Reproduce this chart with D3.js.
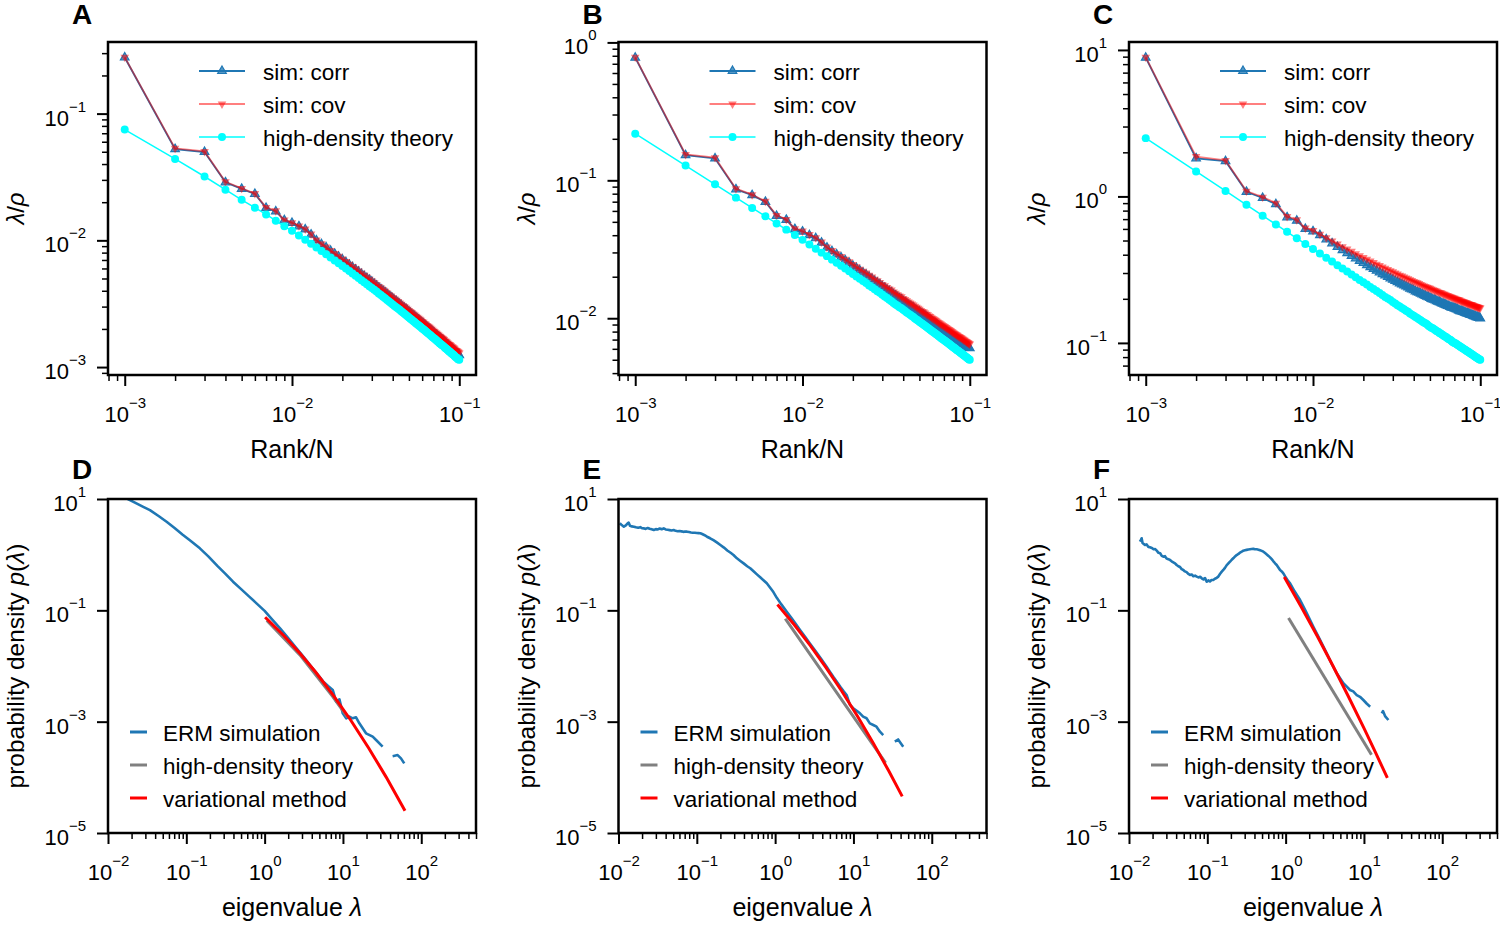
<!DOCTYPE html>
<html>
<head>
<meta charset="utf-8">
<title>ERM spectra</title>
<script src="https://cdn.jsdelivr.net/npm/d3@7/dist/d3.min.js"></script>
<style>
  body { margin: 0; background: #ffffff; }
  svg text { font-family: "Liberation Sans", Arial, Helvetica, sans-serif; }
</style>
</head>
<body>
<div id="figure"></div>
<script>
// DATA
// top row: eigenvalue / density against rank / N
const rankN = [
  0.001, 0.002, 0.003, 0.004, 0.005, 0.006, 0.007, 0.008, 0.009, 0.010,
  0.011, 0.012, 0.013, 0.014, 0.015, 0.016, 0.017, 0.018, 0.019, 0.020,
  0.021, 0.022, 0.023, 0.024, 0.025, 0.026, 0.027, 0.028, 0.029, 0.030,
  0.031, 0.032, 0.033, 0.034, 0.035, 0.036, 0.037, 0.038, 0.039, 0.040,
  0.041, 0.042, 0.043, 0.044, 0.045, 0.046, 0.047, 0.048, 0.049, 0.050,
  0.051, 0.052, 0.053, 0.054, 0.055, 0.056, 0.057, 0.058, 0.059, 0.060,
  0.061, 0.062, 0.063, 0.064, 0.065, 0.066, 0.067, 0.068, 0.069, 0.070,
  0.071, 0.072, 0.073, 0.074, 0.075, 0.076, 0.077, 0.078, 0.079, 0.080,
  0.081, 0.082, 0.083, 0.084, 0.085, 0.086, 0.087, 0.088, 0.089, 0.090,
  0.091, 0.092, 0.093, 0.094, 0.095, 0.096, 0.097, 0.098, 0.099, 0.100
];

const A_corr = [
  0.277, 0.0525, 0.0498, 0.0287, 0.0255, 0.0232, 0.018, 0.0169, 0.0144, 0.0137,
  0.0129, 0.0122, 0.0111, 0.00998, 0.00933, 0.00879, 0.00826, 0.00782, 0.00742, 0.00707,
  0.00671, 0.00641, 0.00613, 0.00588, 0.00565, 0.00543, 0.00524, 0.00504, 0.00488, 0.00471,
  0.00454, 0.00439, 0.00424, 0.00412, 0.004, 0.00389, 0.00378, 0.00366, 0.00357, 0.00348,
  0.00337, 0.0033, 0.00322, 0.00314, 0.00306, 0.00298, 0.00292, 0.00287, 0.0028, 0.00273,
  0.00267, 0.00261, 0.00255, 0.00252, 0.00246, 0.00241, 0.00237, 0.00232, 0.00228, 0.00223,
  0.0022, 0.00215, 0.00212, 0.00207, 0.00204, 0.00201, 0.00197, 0.00194, 0.00191, 0.00188,
  0.00185, 0.00181, 0.00179, 0.00176, 0.00173, 0.00171, 0.00169, 0.00166, 0.00164, 0.00162,
  0.0016, 0.00156, 0.00155, 0.00153, 0.0015, 0.00148, 0.00146, 0.00145, 0.00143, 0.0014,
  0.00139, 0.00137, 0.00136, 0.00133, 0.00131, 0.0013, 0.00129, 0.00127, 0.00126, 0.00124
];
const A_cov = [
  0.279, 0.0532, 0.0503, 0.029, 0.0257, 0.0234, 0.0182, 0.0171, 0.0145, 0.0138,
  0.013, 0.0123, 0.0112, 0.01005, 0.00939, 0.00885, 0.00832, 0.00788, 0.00748, 0.00712,
  0.0068, 0.00649, 0.00621, 0.00596, 0.00572, 0.0055, 0.00531, 0.00511, 0.00494, 0.00477,
  0.00462, 0.00447, 0.00432, 0.0042, 0.00407, 0.00396, 0.00385, 0.00373, 0.00364, 0.00354,
  0.00345, 0.00337, 0.00329, 0.00321, 0.00313, 0.00305, 0.00299, 0.00293, 0.00286, 0.00279,
  0.00274, 0.00268, 0.00262, 0.00258, 0.00252, 0.00247, 0.00243, 0.00238, 0.00234, 0.00229,
  0.00226, 0.00221, 0.00218, 0.00213, 0.0021, 0.00207, 0.00203, 0.002, 0.00196, 0.00193,
  0.00191, 0.00187, 0.00185, 0.00182, 0.00179, 0.00176, 0.00174, 0.00171, 0.00169, 0.00167,
  0.00165, 0.00161, 0.0016, 0.00158, 0.00155, 0.00153, 0.00151, 0.0015, 0.00148, 0.00145,
  0.00144, 0.00142, 0.00141, 0.00138, 0.00136, 0.00135, 0.00134, 0.00132, 0.00131, 0.00129
];
const A_theory = [
  0.0748, 0.0439, 0.0319, 0.0251, 0.0209, 0.0181, 0.016, 0.0143, 0.0129, 0.0119,
  0.0109, 0.0101, 0.00939, 0.00878, 0.00824, 0.00776, 0.00733, 0.00694, 0.00659, 0.00627,
  0.00599, 0.00572, 0.00547, 0.00525, 0.00504, 0.00485, 0.00468, 0.0045, 0.00435, 0.0042,
  0.00407, 0.00394, 0.00381, 0.0037, 0.00359, 0.00349, 0.00339, 0.00329, 0.00321, 0.00312,
  0.00304, 0.00297, 0.0029, 0.00283, 0.00276, 0.00269, 0.00263, 0.00258, 0.00252, 0.00246,
  0.00241, 0.00236, 0.00231, 0.00227, 0.00222, 0.00218, 0.00214, 0.0021, 0.00206, 0.00202,
  0.00199, 0.00195, 0.00192, 0.00188, 0.00185, 0.00182, 0.00179, 0.00176, 0.00173, 0.0017,
  0.00168, 0.00165, 0.00163, 0.0016, 0.00158, 0.00155, 0.00153, 0.00151, 0.00149, 0.00147,
  0.00145, 0.00142, 0.00141, 0.00139, 0.00137, 0.00135, 0.00133, 0.00132, 0.0013, 0.00128,
  0.00127, 0.00125, 0.00124, 0.00122, 0.0012, 0.00119, 0.00118, 0.00116, 0.00115, 0.00114
];

const B_corr = [
  0.775, 0.152, 0.144, 0.086, 0.078, 0.0698, 0.0552, 0.0517, 0.0443, 0.0425,
  0.04, 0.038, 0.0353, 0.0325, 0.0306, 0.029, 0.0276, 0.0263, 0.0252, 0.024,
  0.0231, 0.0222, 0.0214, 0.0207, 0.0199, 0.0193, 0.0186, 0.0181, 0.0176, 0.017,
  0.0166, 0.0161, 0.0157, 0.0154, 0.0149, 0.0146, 0.0142, 0.0139, 0.0137, 0.0133,
  0.0131, 0.0128, 0.0125, 0.0123, 0.0121, 0.0119, 0.0116, 0.0114, 0.0112, 0.0111,
  0.0109, 0.0107, 0.0106, 0.0104, 0.0102, 0.0101, 0.00986, 0.00971, 0.00958, 0.00943,
  0.00931, 0.00918, 0.00905, 0.00893, 0.0088, 0.00868, 0.00856, 0.00846, 0.00836, 0.00825,
  0.00815, 0.00806, 0.00795, 0.00787, 0.00777, 0.00768, 0.00761, 0.00751, 0.00742, 0.00734,
  0.00727, 0.00719, 0.00711, 0.00705, 0.00697, 0.0069, 0.00683, 0.00678, 0.00671, 0.00664,
  0.00658, 0.00649, 0.00646, 0.00639, 0.00633, 0.00628, 0.00621, 0.00618, 0.0061, 0.00606
];
const B_cov = [
  0.782, 0.154, 0.146, 0.087, 0.0787, 0.0704, 0.0557, 0.0521, 0.0446, 0.0429,
  0.0404, 0.0384, 0.0357, 0.0328, 0.031, 0.0294, 0.028, 0.0268, 0.0257, 0.0245,
  0.0236, 0.0227, 0.0219, 0.0213, 0.0205, 0.0199, 0.0192, 0.0187, 0.0182, 0.0176,
  0.0172, 0.0167, 0.0163, 0.016, 0.0155, 0.0152, 0.0148, 0.0145, 0.0143, 0.0139,
  0.0137, 0.0134, 0.0131, 0.0129, 0.0127, 0.0125, 0.0122, 0.012, 0.0118, 0.0116,
  0.0114, 0.0112, 0.0111, 0.0109, 0.0107, 0.0106, 0.0104, 0.0103, 0.0101, 0.00996,
  0.00984, 0.0097, 0.00958, 0.00945, 0.00932, 0.0092, 0.00908, 0.00897, 0.00887, 0.00876,
  0.00866, 0.00857, 0.00846, 0.00837, 0.00827, 0.00818, 0.0081, 0.00801, 0.00791, 0.00783,
  0.00776, 0.00767, 0.0076, 0.00753, 0.00745, 0.00738, 0.0073, 0.00725, 0.00718, 0.00711,
  0.00704, 0.00696, 0.00692, 0.00685, 0.00678, 0.00673, 0.00666, 0.00662, 0.00654, 0.0065
];
const B_theory = [
  0.218, 0.128, 0.0935, 0.0749, 0.0631, 0.0548, 0.0487, 0.0439, 0.0401, 0.037,
  0.0343, 0.0319, 0.0299, 0.0282, 0.0266, 0.0252, 0.024, 0.0229, 0.0219, 0.0209,
  0.0201, 0.0193, 0.0186, 0.018, 0.0173, 0.0168, 0.0162, 0.0157, 0.0153, 0.0148,
  0.0144, 0.014, 0.0136, 0.0133, 0.0129, 0.0126, 0.0123, 0.012, 0.0118, 0.0115,
  0.0113, 0.011, 0.0108, 0.0106, 0.0104, 0.0102, 0.00997, 0.00979, 0.00961, 0.00943,
  0.00926, 0.00911, 0.00896, 0.00881, 0.00866, 0.00852, 0.00838, 0.00826, 0.00812, 0.008,
  0.00789, 0.00777, 0.00766, 0.00755, 0.00744, 0.00733, 0.00723, 0.00713, 0.00704, 0.00695,
  0.00686, 0.00678, 0.00669, 0.00661, 0.00652, 0.00644, 0.00637, 0.00629, 0.00621, 0.00614,
  0.00608, 0.006, 0.00594, 0.00587, 0.00581, 0.00575, 0.00568, 0.00563, 0.00557, 0.00551,
  0.00545, 0.00539, 0.00535, 0.00529, 0.00523, 0.00519, 0.00513, 0.00509, 0.00503, 0.00499
];

const C_corr = [
  8.85, 1.82, 1.74, 1.075, 0.975, 0.885, 0.72, 0.683, 0.6, 0.578,
  0.544, 0.508, 0.478, 0.452, 0.43, 0.41, 0.393, 0.378, 0.363, 0.351,
  0.34, 0.329, 0.32, 0.311, 0.303, 0.295, 0.289, 0.282, 0.276, 0.27,
  0.265, 0.26, 0.255, 0.251, 0.247, 0.243, 0.239, 0.235, 0.232, 0.229,
  0.225, 0.222, 0.22, 0.217, 0.214, 0.212, 0.209, 0.207, 0.205, 0.203,
  0.2, 0.198, 0.197, 0.195, 0.193, 0.191, 0.19, 0.188, 0.186, 0.185,
  0.183, 0.182, 0.18, 0.179, 0.178, 0.176, 0.175, 0.174, 0.173, 0.172,
  0.171, 0.17, 0.169, 0.167, 0.166, 0.165, 0.165, 0.164, 0.163, 0.162,
  0.161, 0.16, 0.159, 0.159, 0.158, 0.157, 0.156, 0.155, 0.155, 0.154,
  0.153, 0.152, 0.152, 0.151, 0.15, 0.15, 0.149, 0.148, 0.148, 0.147
];
const C_cov = [
  8.93, 1.87, 1.76, 1.087, 0.989, 0.9, 0.73, 0.693, 0.608, 0.586,
  0.551, 0.522, 0.496, 0.474, 0.454, 0.437, 0.422, 0.407, 0.394, 0.383,
  0.373, 0.363, 0.354, 0.345, 0.338, 0.33, 0.324, 0.317, 0.311, 0.306,
  0.3, 0.295, 0.29, 0.286, 0.282, 0.278, 0.274, 0.27, 0.267, 0.263,
  0.26, 0.257, 0.254, 0.251, 0.248, 0.245, 0.243, 0.24, 0.238, 0.236,
  0.233, 0.231, 0.229, 0.227, 0.225, 0.223, 0.221, 0.22, 0.218, 0.216,
  0.215, 0.213, 0.211, 0.21, 0.208, 0.207, 0.206, 0.204, 0.203, 0.202,
  0.2, 0.199, 0.198, 0.197, 0.196, 0.194, 0.193, 0.192, 0.191, 0.19,
  0.189, 0.188, 0.187, 0.186, 0.185, 0.184, 0.183, 0.183, 0.182, 0.181,
  0.18, 0.179, 0.178, 0.177, 0.177, 0.176, 0.175, 0.174, 0.174, 0.173
];
const C_theory = [
  2.5, 1.48, 1.089, 0.876, 0.739, 0.644, 0.573, 0.518, 0.474, 0.438,
  0.407, 0.381, 0.359, 0.339, 0.322, 0.307, 0.293, 0.281, 0.269, 0.259,
  0.25, 0.241, 0.233, 0.226, 0.219, 0.212, 0.206, 0.201, 0.196, 0.19,
  0.186, 0.181, 0.177, 0.173, 0.17, 0.166, 0.163, 0.159, 0.156, 0.153,
  0.15, 0.148, 0.145, 0.143, 0.14, 0.138, 0.136, 0.134, 0.131, 0.129,
  0.127, 0.126, 0.124, 0.122, 0.12, 0.119, 0.117, 0.116, 0.114, 0.113,
  0.111, 0.11, 0.109, 0.107, 0.106, 0.105, 0.104, 0.102, 0.101, 0.1,
  0.0993, 0.0982, 0.0972, 0.0962, 0.0952, 0.0942, 0.0934, 0.0924, 0.0915, 0.0907,
  0.0899, 0.089, 0.0882, 0.0874, 0.0866, 0.0859, 0.085, 0.0844, 0.0837, 0.083,
  0.0822, 0.0815, 0.0809, 0.0802, 0.0795, 0.079, 0.0783, 0.0777, 0.0771, 0.0766
];

// bottom row: eigenvalue densities (null = empty bins, line is broken there)
const D_ermLambda = [
  0.0151, 0.0182, 0.0224, 0.0282, 0.0343, 0.0447, 0.056, 0.0708, 0.0891, 0.112,
  0.149, 0.191, 0.251, 0.316, 0.395, 0.501, 0.631, 0.794, 1.0, 1.26,
  1.585, 2.0, 2.51, 3.16, 3.98, 4.79, 5.62, 6.46, 7.41, 8.18,
  9.02, 9.95, 11.0, 12.1, 13.3, 14.7, 16.2, 19.7, 24.0, 26.5,
  32.1, null, 43.1, 49.9, 55.1, 60.7
];
const D_ermDensity = [
  11.0, 9.89, 8.51, 7.24, 6.31, 4.9, 3.91, 3.02, 2.31, 1.8,
  1.3, 0.933, 0.621, 0.452, 0.327, 0.24, 0.178, 0.132, 0.0977, 0.0676,
  0.0468, 0.0316, 0.0214, 0.0145, 0.00955, 0.00692, 0.00525, 0.00437, 0.00371, 0.00229,
  0.00252, 0.00141, 0.00115, 0.00123, 0.00115, 0.0012, 0.000933, 0.000617, 0.000537, 0.000468,
  0.000355, null, 0.00024, 0.000251, 0.000219, 0.000178
];
const D_hdLambda = [1.1, 2.82, 7.41, 11.2];
const D_hdDensity = [0.063, 0.0158, 0.00282, 0.00126];
const D_varLambda = [1.047, 1.778, 2.818, 4.467, 7.413, 12.59, 21.38, 35.48, 60.67];
const D_varDensity = [0.0719, 0.0346, 0.017, 0.0078, 0.00307, 0.00106, 0.000334, 0.000102, 0.0000265];

const E_ermLambda = [
  0.0104, 0.011, 0.0117, 0.0124, 0.013, 0.0135, 0.014, 0.0148, 0.0157, 0.0167,
  0.0178, 0.019, 0.02, 0.021, 0.0222, 0.0236, 0.025, 0.0265, 0.0282, 0.03,
  0.0318, 0.0336, 0.0356, 0.0378, 0.04, 0.0424, 0.045, 0.0477, 0.0506, 0.0536,
  0.0568, 0.06, 0.0637, 0.0675, 0.071, 0.075, 0.0795, 0.0843, 0.089, 0.0945,
  0.1, 0.105, 0.111, 0.117, 0.124, 0.135, 0.148, 0.163, 0.18, 0.2,
  0.222, 0.245, 0.27, 0.294, 0.325, 0.36, 0.4, 0.44, 0.481, 0.53,
  0.59, 0.65, 0.71, 0.783, 0.86, 0.95, 1.05, 1.2, 1.4, 1.6,
  1.8, 2.08, 2.4, 2.75, 3.05, 3.4, 3.9, 4.5, 5.0, 5.53,
  6.2, 6.9, 7.5, 8.18, 9.02, 9.95, 11.0, 12.1, 13.3, 14.7,
  16.2, 17.9, 19.7, 21.8, 24.0, null, 33.8, 37.2, 43.2
];
const E_ermDensity = [
  3.66, 3.4, 3.18, 3.35, 3.62, 3.76, 3.3, 3.22, 3.18, 3.1,
  3.05, 3.12, 2.98, 2.97, 2.9, 3.02, 2.92, 2.85, 2.77, 2.88,
  2.84, 2.95, 2.86, 2.97, 2.84, 2.8, 2.76, 2.72, 2.77, 2.68,
  2.64, 2.66, 2.62, 2.57, 2.6, 2.59, 2.55, 2.5, 2.47, 2.48,
  2.45, 2.44, 2.42, 2.35, 2.26, 2.1, 1.97, 1.82, 1.66, 1.49,
  1.34, 1.19, 1.08, 0.986, 0.86, 0.77, 0.69, 0.62, 0.569, 0.503,
  0.438, 0.388, 0.348, 0.306, 0.257, 0.213, 0.168, 0.128, 0.095, 0.074,
  0.059, 0.0445, 0.034, 0.026, 0.0213, 0.0173, 0.0132, 0.0099, 0.0079, 0.0064,
  0.0051, 0.0041, 0.0035, 0.00301, 0.002, 0.00174, 0.00157, 0.00141, 0.00123, 0.00115,
  0.000933, 0.000871, 0.000813, 0.000661, 0.000575, null, 0.000437, 0.000479, 0.000355
];
const E_hdLambda = [1.38, 25.1];
const E_hdDensity = [0.0671, 0.000191];
const E_varLambda = [1.102, 1.778, 2.818, 4.467, 7.079, 11.22, 17.78, 28.18, 41.11];
const E_varDensity = [0.121, 0.054, 0.0232, 0.00938, 0.00355, 0.00126, 0.00042, 0.000131, 0.0000481];

const F_ermLambda = [
  0.0138, 0.0142, 0.0145, 0.0149, 0.016, 0.0168, 0.0177, 0.0185, 0.0196, 0.0206,
  0.0216, 0.0226, 0.0238, 0.025, 0.0262, 0.0274, 0.0288, 0.0302, 0.0318, 0.0334,
  0.035, 0.0368, 0.0387, 0.0406, 0.0427, 0.0448, 0.047, 0.0494, 0.0518, 0.0544,
  0.0572, 0.0601, 0.0632, 0.0664, 0.0698, 0.0733, 0.077, 0.081, 0.0849, 0.0892,
  0.0936, 0.0982, 0.103, 0.108, 0.113, 0.119, 0.125, 0.131, 0.138, 0.145,
  0.152, 0.16, 0.168, 0.177, 0.186, 0.195, 0.205, 0.216, 0.226, 0.237,
  0.25, 0.262, 0.275, 0.288, 0.302, 0.318, 0.334, 0.351, 0.368, 0.387,
  0.407, 0.428, 0.45, 0.472, 0.496, 0.52, 0.547, 0.575, 0.604, 0.632,
  0.664, 0.698, 0.733, 0.769, 0.808, 0.849, 0.892, 0.935, 0.982, 1.03,
  1.08, 1.14, 1.3, 1.53, 1.8, 2.26, 2.7, 3.35, 3.9, 4.5,
  5.46, 6.0, 6.64, 7.3, 8.09, 8.9, 9.82, 10.9, 12.0, null,
  16.9, 17.5, 18.6, 20.5
];
const F_ermDensity = [
  1.71, 1.85, 1.97, 1.62, 1.49, 1.53, 1.38, 1.36, 1.32, 1.25,
  1.26, 1.18, 1.08, 1.06, 0.95, 0.92, 0.94, 0.85, 0.83, 0.802,
  0.76, 0.73, 0.7, 0.652, 0.62, 0.6, 0.55, 0.531, 0.5, 0.485,
  0.45, 0.432, 0.44, 0.41, 0.42, 0.403, 0.39, 0.4, 0.376, 0.36,
  0.38, 0.327, 0.345, 0.33, 0.35, 0.351, 0.37, 0.38, 0.403, 0.45,
  0.49, 0.531, 0.58, 0.65, 0.7, 0.748, 0.81, 0.87, 0.93, 0.986,
  1.03, 1.09, 1.13, 1.18, 1.2, 1.22, 1.24, 1.25, 1.26, 1.27,
  1.25, 1.25, 1.23, 1.2, 1.17, 1.13, 1.07, 1.01, 0.95, 0.895,
  0.83, 0.76, 0.7, 0.652, 0.59, 0.53, 0.5, 0.462, 0.41, 0.37,
  0.335, 0.306, 0.22, 0.153, 0.098, 0.0508, 0.031, 0.0169, 0.0108, 0.0074,
  0.00489, 0.0043, 0.00371, 0.0035, 0.00301, 0.0028, 0.00245, 0.0021, 0.00186, null,
  0.00141, 0.00155, 0.00126, 0.00107
];
const F_hdLambda = [1.114, 12.2];
const F_hdDensity = [0.0692, 0.000269];
const F_varLambda = [0.982, 1.585, 2.512, 3.981, 6.31, 10.0, 14.13, 19.54];
const F_varDensity = [0.376, 0.115, 0.0352, 0.0103, 0.00286, 0.000764, 0.000275, 0.000103];

// tick labels and legend texts
const rankTicks = [1e-3, 1e-2, 1e-1];
const yTicksA = [1e-3, 1e-2, 1e-1];
const yTicksB = [1e-2, 1e-1, 1e0];
const yTicksC = [1e-1, 1e0, 1e1];
const lambdaTicks = [1e-2, 1e-1, 1e0, 1e1, 1e2];
const densityTicks = [1e-5, 1e-3, 1e-1, 1e1];
const lambdaLimits = [1e-2, 5e2];
const densityLimits = [1e-5, 1e1];
const topLegend = ["sim: corr", "sim: cov", "high-density theory"];
const bottomLegend = ["ERM simulation", "high-density theory", "variational method"];
const letters = ["A", "B", "C", "D", "E", "F"];

// CONST and GLOBALS
const width = 1500, height = 927;
const panelWidth = 368;
const colLeft = [108, 618.5, 1129];
const topRow = { top: 42, height: 333, letterY: 24 };
const bottomRow = { top: 499, height: 334, letterY: 479 };
const blue = "#1f77b4", red = "#ff0000", cyan = "#00ffff", grey = "#808080";
const tickFont = 22, supFont = 15, labelFont = 25, legendFont = 22.5;

const topSeries = [
  { corr: A_corr, cov: A_cov, theory: A_theory, yTicks: yTicksA },
  { corr: B_corr, cov: B_cov, theory: B_theory, yTicks: yTicksB },
  { corr: C_corr, cov: C_cov, theory: C_theory, yTicks: yTicksC },
];
const bottomSeries = [
  { ermL: D_ermLambda, ermP: D_ermDensity, hdL: D_hdLambda, hdP: D_hdDensity, varL: D_varLambda, varP: D_varDensity },
  { ermL: E_ermLambda, ermP: E_ermDensity, hdL: E_hdLambda, hdP: E_hdDensity, varL: E_varLambda, varP: E_varDensity },
  { ermL: F_ermLambda, ermP: F_ermDensity, hdL: F_hdLambda, hdP: F_hdDensity, varL: F_varLambda, varP: F_varDensity },
];

let svg;
const zip = (xs, ys) => xs.map((v, j) => [v, ys[j]]);
const isDecade = (v) => Math.abs(Math.log10(v) - Math.round(Math.log10(v))) < 1e-6;
const triangle = d3.symbol(d3.symbolTriangle, 32)();
const dot = d3.symbol(d3.symbolCircle, 50)();

init();

// INITIALIZING FUNCTION
function init() {
  svg = d3
    .select("#figure")
    .append("svg")
    .attr("width", width)
    .attr("height", height)
    .attr("viewBox", `0 0 ${width} ${height}`);

  svg.append("rect").attr("width", width).attr("height", height).attr("fill", "#ffffff");

  topSeries.forEach((s, i) => drawRankPanel(s, i));
  bottomSeries.forEach((s, i) => drawDensityPanel(s, i));
}

// log axis limits with matplotlib-like 5% margins
function logDomain(arrays) {
  const vals = arrays.flat().filter((v) => v != null);
  const lo = Math.log10(d3.min(vals));
  const hi = Math.log10(d3.max(vals));
  const pad = (hi - lo) * 0.05;
  return [Math.pow(10, lo - pad), Math.pow(10, hi + pad)];
}

// "10" with a superscript exponent
function powerText(sel) {
  sel.each(function (d) {
    const e = Math.round(Math.log10(d));
    const t = d3.select(this).text(null);
    t.append("tspan").text("10");
    t.append("tspan")
      .attr("dy", -14)
      .attr("font-size", supFont)
      .text(e < 0 ? "\u2212" + -e : String(e));
  });
}

function drawAxes(g, x, y, xTicks, yTicks, yMinor) {
  const yBottom = y.range()[0];
  const xLeft = x.range()[0];

  // x axis: minor then major ticks
  g.append("g")
    .attr("transform", `translate(0,${yBottom})`)
    .call(d3.axisBottom(x).tickValues(x.ticks().filter((v) => !isDecade(v))).tickSize(6).tickFormat(""))
    .call((s) => s.select(".domain").remove())
    .selectAll("line")
    .attr("stroke-width", 1.5);

  const gx = g
    .append("g")
    .attr("class", "axis x-axis")
    .attr("transform", `translate(0,${yBottom})`)
    .call(d3.axisBottom(x).tickValues(xTicks).tickSize(11))
    .call((s) => s.select(".domain").remove());
  gx.selectAll("line").attr("stroke-width", 2);
  gx.selectAll("text").attr("y", 46.7).attr("dy", null).attr("font-size", tickFont).call(powerText);

  // y axis
  if (yMinor) {
    g.append("g")
      .attr("transform", `translate(${xLeft},0)`)
      .call(d3.axisLeft(y).tickValues(y.ticks().filter((v) => !isDecade(v))).tickSize(6).tickFormat(""))
      .call((s) => s.select(".domain").remove())
      .selectAll("line")
      .attr("stroke-width", 1.5);
  }
  const gy = g
    .append("g")
    .attr("class", "axis y-axis")
    .attr("transform", `translate(${xLeft},0)`)
    .call(d3.axisLeft(y).tickValues(yTicks).tickSize(11))
    .call((s) => s.select(".domain").remove());
  gy.selectAll("line").attr("stroke-width", 2);
  gy.selectAll("text").attr("x", -22).attr("y", 11.5).attr("dy", null).attr("font-size", tickFont).call(powerText);
}

function drawFrame(g, left, top, h, letter, letterY) {
  g.append("rect")
    .attr("x", left)
    .attr("y", top)
    .attr("width", panelWidth)
    .attr("height", h)
    .attr("fill", "none")
    .attr("stroke", "#000")
    .attr("stroke-width", 2.5);

  g.append("text")
    .attr("x", left - 36)
    .attr("y", letterY)
    .attr("font-size", 28)
    .attr("font-weight", "bold")
    .text(letter);
}

function drawRankPanel(s, i) {
  const left = colLeft[i];
  const top = topRow.top;
  const bottom = top + topRow.height;

  const x = d3.scaleLog().domain(logDomain([rankN])).range([left, left + panelWidth]);
  const y = d3.scaleLog().domain(logDomain([s.corr, s.cov, s.theory])).range([bottom, top]);
  const line = d3.line().x((d) => x(d[0])).y((d) => y(d[1]));
  const g = svg.append("g").attr("class", "panel");

  const corr = zip(rankN, s.corr);
  const cov = zip(rankN, s.cov);
  const theory = zip(rankN, s.theory);

  // sim: corr (up triangles)
  g.append("path").datum(corr).attr("d", line).attr("fill", "none").attr("stroke", blue).attr("stroke-width", 1.8);
  g.append("g")
    .selectAll("path")
    .data(corr)
    .join("path")
    .attr("d", triangle)
    .attr("transform", (d) => `translate(${x(d[0])},${y(d[1])})`)
    .attr("fill", blue)
    .attr("fill-opacity", 0.75)
    .attr("stroke", blue)
    .attr("stroke-width", 1.2);

  // sim: cov (half transparent down triangles)
  g.append("path")
    .datum(cov)
    .attr("d", line)
    .attr("fill", "none")
    .attr("stroke", red)
    .attr("stroke-opacity", 0.5)
    .attr("stroke-width", 1.8);
  g.append("g")
    .selectAll("path")
    .data(cov)
    .join("path")
    .attr("d", triangle)
    .attr("transform", (d) => `translate(${x(d[0])},${y(d[1])}) rotate(180)`)
    .attr("fill", red)
    .attr("fill-opacity", 0.5);

  // high-density theory
  g.append("path").datum(theory).attr("d", line).attr("fill", "none").attr("stroke", cyan).attr("stroke-width", 1.5);
  g.append("g")
    .selectAll("path")
    .data(theory)
    .join("path")
    .attr("d", dot)
    .attr("transform", (d) => `translate(${x(d[0])},${y(d[1])})`)
    .attr("fill", cyan);

  drawAxes(g, x, y, rankTicks, s.yTicks, true);
  drawFrame(g, left, top, topRow.height, letters[i], topRow.letterY);

  // axis labels
  g.append("text")
    .attr("x", left + panelWidth / 2)
    .attr("y", bottom + 83)
    .attr("text-anchor", "middle")
    .attr("font-size", labelFont)
    .text("Rank/N");

  const yl = g
    .append("text")
    .attr("transform", `translate(${left - 84},${top + topRow.height / 2}) rotate(-90)`)
    .attr("text-anchor", "middle")
    .attr("font-size", 24);
  yl.append("tspan").attr("font-style", "italic").text("\u03bb");
  yl.append("tspan").text("/");
  yl.append("tspan").attr("font-style", "italic").text("\u03c1");

  // legend
  const lx0 = left + 91, lx1 = left + 137;
  const rows = [top + 29, top + 62, top + 95];
  const leg = g.append("g").attr("class", "legend");
  leg.append("line").attr("x1", lx0).attr("x2", lx1).attr("y1", rows[0]).attr("y2", rows[0]).attr("stroke", blue).attr("stroke-width", 1.8);
  leg.append("path").attr("d", triangle).attr("transform", `translate(${(lx0 + lx1) / 2},${rows[0]})`)
    .attr("fill", blue).attr("fill-opacity", 0.75).attr("stroke", blue).attr("stroke-width", 1.2);
  leg.append("line").attr("x1", lx0).attr("x2", lx1).attr("y1", rows[1]).attr("y2", rows[1]).attr("stroke", red).attr("stroke-opacity", 0.5).attr("stroke-width", 1.8);
  leg.append("path").attr("d", triangle).attr("transform", `translate(${(lx0 + lx1) / 2},${rows[1]}) rotate(180)`)
    .attr("fill", red).attr("fill-opacity", 0.5);
  leg.append("line").attr("x1", lx0).attr("x2", lx1).attr("y1", rows[2]).attr("y2", rows[2]).attr("stroke", cyan).attr("stroke-width", 1.5);
  leg.append("path").attr("d", dot).attr("transform", `translate(${(lx0 + lx1) / 2},${rows[2]})`).attr("fill", cyan);
  leg.selectAll("text")
    .data(topLegend)
    .join("text")
    .attr("x", left + 155)
    .attr("y", (d, j) => rows[j] + 9)
    .attr("font-size", legendFont)
    .text((d) => d);
}

function drawDensityPanel(s, i) {
  const left = colLeft[i];
  const top = bottomRow.top;
  const bottom = top + bottomRow.height;

  const x = d3.scaleLog().domain(lambdaLimits).range([left, left + panelWidth]);
  const y = d3.scaleLog().domain(densityLimits).range([bottom, top]);
  const line = d3
    .line()
    .defined((d) => d[0] != null && d[1] != null)
    .x((d) => x(d[0]))
    .y((d) => y(d[1]));

  const g = svg.append("g").attr("class", "panel");
  const clipId = "clip-" + letters[i + 3];
  g.append("clipPath").attr("id", clipId).append("rect")
    .attr("x", left).attr("y", top).attr("width", panelWidth).attr("height", bottomRow.height);
  const plot = g.append("g").attr("clip-path", `url(#${clipId})`);

  plot.append("path").datum(zip(s.ermL, s.ermP)).attr("d", line)
    .attr("fill", "none").attr("stroke", blue).attr("stroke-width", 2.6).attr("stroke-linejoin", "round");
  plot.append("path").datum(zip(s.hdL, s.hdP)).attr("d", line)
    .attr("fill", "none").attr("stroke", grey).attr("stroke-width", 3).attr("stroke-linecap", "square");
  plot.append("path").datum(zip(s.varL, s.varP)).attr("d", line)
    .attr("fill", "none").attr("stroke", red).attr("stroke-width", 3).attr("stroke-linecap", "square");

  drawAxes(g, x, y, lambdaTicks, densityTicks, false);
  drawFrame(g, left, top, bottomRow.height, letters[i + 3], bottomRow.letterY);

  const xl = g
    .append("text")
    .attr("x", left + panelWidth / 2)
    .attr("y", bottom + 83)
    .attr("text-anchor", "middle")
    .attr("font-size", labelFont);
  xl.append("tspan").text("eigenvalue ");
  xl.append("tspan").attr("font-style", "italic").text("\u03bb");

  const yl = g
    .append("text")
    .attr("transform", `translate(${left - 84},${top + bottomRow.height / 2}) rotate(-90)`)
    .attr("text-anchor", "middle")
    .attr("font-size", 24.5);
  yl.append("tspan").text("probability density ");
  yl.append("tspan").attr("font-style", "italic").text("p");
  yl.append("tspan").text("(");
  yl.append("tspan").attr("font-style", "italic").text("\u03bb");
  yl.append("tspan").text(")");

  // legend
  const rows = [top + 233, top + 266, top + 299];
  const colors = [blue, grey, red];
  const leg = g.append("g").attr("class", "legend");
  leg.selectAll("line")
    .data(colors)
    .join("line")
    .attr("x1", left + 22)
    .attr("x2", left + 39)
    .attr("y1", (d, j) => rows[j])
    .attr("y2", (d, j) => rows[j])
    .attr("stroke", (d) => d)
    .attr("stroke-width", 3);
  leg.selectAll("text")
    .data(bottomLegend)
    .join("text")
    .attr("x", left + 55)
    .attr("y", (d, j) => rows[j] + 9)
    .attr("font-size", legendFont)
    .text((d) => d);
}
</script>
</body>
</html>
